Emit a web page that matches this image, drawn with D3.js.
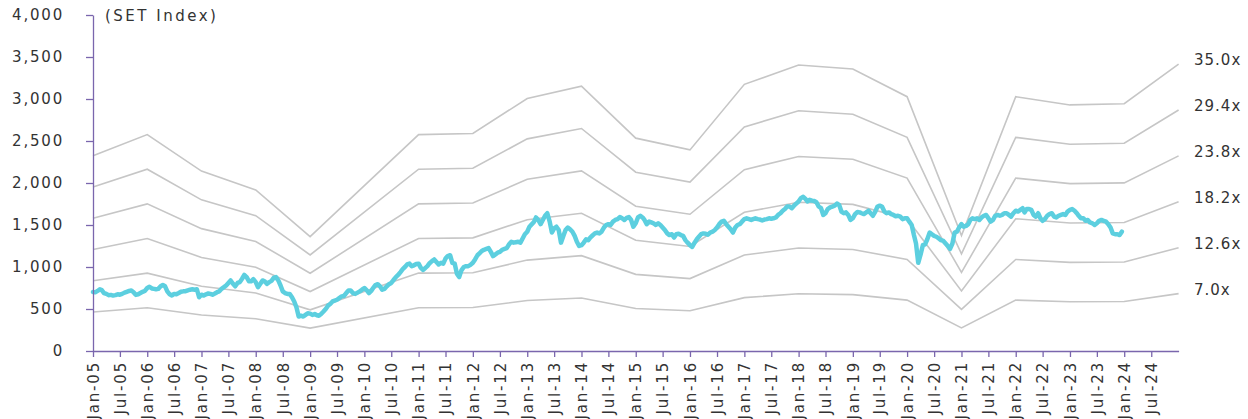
<!DOCTYPE html>
<html>
<head>
<meta charset="utf-8">
<script src="https://cdn.jsdelivr.net/npm/d3@7"></script>
<style>
  html, body { margin: 0; padding: 0; background: #fff; }
  svg { display: block; }
  text { font-family: "DejaVu Sans", sans-serif; fill: #333; }
</style>
</head>
<body>
<svg id="chart" width="1248" height="419"></svg>
<script>
// ---------- DATA ----------
// SET Index, two readings per month (1st & 16th), Jan-2005 .. Dec-2023
const setValues = [
  // 2005
  702,698, 715,735, 725,690, 680,665, 668,660, 665,675, 670,680, 695,705, 715,720, 700,668, 675,690, 705,715,
  // 2006
  750,765, 745,740, 735,740, 770,785, 770,710, 675,660, 680,675, 690,705, 710,712, 722,730, 735,730, 735,640,
  // 2007
  670,660, 675,685, 680,670, 685,700, 710,740, 760,780, 810,840, 800,770, 810,820, 860,905, 880,830, 830,855,
  // 2008
  820,760, 800,840, 830,800, 820,835, 870,880, 840,780, 710,690, 680,680, 640,590, 520,410, 420,410, 430,450,
  // 2009
  445,430, 440,425, 420,440, 470,500, 540,560, 590,600, 610,630, 650,655, 690,720, 720,690, 680,695, 710,730,
  // 2010
  750,725, 690,715, 750,785, 795,770, 730,740, 770,795, 810,845, 880,905, 940,975, 1000,1030, 1040,1010, 1020,1035,
  // 2011
  1040,990, 965,990, 1010,1045, 1070,1090, 1060,1030, 1050,1040, 1100,1130, 1140,1050, 1040,920, 880,960, 1000,1010, 1010,1025,
  // 2012
  1050,1090, 1140,1165, 1190,1205, 1215,1225, 1180,1130, 1150,1170, 1180,1205, 1215,1225, 1270,1300, 1290,1295, 1300,1290, 1340,1390,
  // 2013
  1420,1480, 1510,1540, 1590,1560, 1510,1560, 1610,1640, 1540,1410, 1460,1480, 1440,1290, 1370,1440, 1470,1450, 1420,1370, 1300,1250,
  // 2014
  1260,1290, 1330,1320, 1350,1375, 1400,1410, 1400,1420, 1470,1500, 1510,1500, 1540,1560, 1570,1595, 1580,1560, 1585,1595, 1560,1480,
  // 2015
  1520,1590, 1610,1590, 1560,1510, 1540,1530, 1520,1500, 1520,1500, 1470,1440, 1400,1380, 1390,1350, 1390,1395, 1380,1370, 1320,1290,
  // 2016
  1260,1240, 1290,1330, 1360,1390, 1400,1395, 1385,1410, 1420,1440, 1470,1510, 1540,1550, 1510,1480, 1450,1410, 1470,1500, 1510,1540,
  // 2017
  1570,1580, 1570,1560, 1570,1580, 1570,1565, 1555,1565, 1570,1580, 1575,1580, 1590,1620, 1640,1670, 1690,1720, 1720,1700, 1730,1755,
  // 2018
  1780,1820, 1835,1810, 1780,1800, 1790,1785, 1770,1720, 1700,1620, 1640,1690, 1710,1720, 1730,1755, 1740,1660, 1640,1650, 1620,1560,
  // 2019
  1580,1630, 1655,1650, 1640,1630, 1650,1670, 1640,1610, 1660,1720, 1730,1720, 1660,1640, 1650,1630, 1620,1605, 1610,1600, 1570,1580,
  // 2020
  1580,1540, 1500,1380, 1280,1050, 1150,1260, 1270,1330, 1410,1390, 1370,1360, 1340,1320, 1310,1280, 1250,1215, 1280,1410, 1420,1470,
  // 2021
  1510,1480, 1490,1510, 1560,1580, 1570,1580, 1560,1590, 1610,1620, 1580,1540, 1560,1610, 1620,1610, 1620,1640, 1640,1620, 1600,1640,
  // 2022
  1670,1660, 1680,1700, 1650,1690, 1690,1680, 1620,1600, 1640,1580, 1550,1570, 1610,1630, 1640,1600, 1590,1610, 1620,1630, 1620,1660,
  // 2023
  1680,1690, 1670,1640, 1610,1580, 1580,1550, 1560,1530, 1520,1500, 1520,1550, 1560,1550, 1540,1510, 1470,1400, 1390,1390, 1380,1420
];

// Forward EPS (index points) at each January, and the PE multiples of the bands
const epsYears = [2005, 2006, 2007, 2008, 2009, 2011, 2012, 2013, 2014, 2015, 2016, 2017, 2018, 2019, 2020, 2021, 2022, 2023, 2024, 2025];
const epsValues = [66.4, 73.6, 61.2, 54.8, 38.9, 73.6, 74.0, 85.9, 90.1, 72.4, 68.4, 90.7, 97.3, 95.9, 86.5, 39.3, 86.5, 83.7, 84.1, 97.6];
const multiples = [7.0, 12.6, 18.2, 23.8, 29.4, 35.0];
const bandLabels = ["7.0x", "12.6x", "18.2x", "23.8x", "29.4x", "35.0x"];

const yTicks = [0, 500, 1000, 1500, 2000, 2500, 3000, 3500, 4000];
const yTitle = "(SET Index)";

// ---------- CHART ----------
const svg = d3.select("#chart");
const mLeft = 93, mRight = 1178.6, mTop = 15, mBottom = 351;

const x = d3.scaleTime()
  .domain([new Date(2005, 0, 1), new Date(2025, 0, 1)])
  .range([mLeft, mRight]);
const y = d3.scaleLinear().domain([0, 4000]).range([mBottom, mTop]);

const axisColor = "#7a66ad";

// PE bands
const bandLine = d3.line().x(d => x(d.date)).y(d => y(d.value));
multiples.forEach((m, k) => {
  const pts = epsYears.map((yr, i) => ({ date: new Date(yr, 0, 1), value: epsValues[i] * m }));
  svg.append("path")
    .attr("d", bandLine(pts))
    .attr("fill", "none")
    .attr("stroke", "#c6c6c6")
    .attr("stroke-width", 1.6);
  const last = pts[pts.length - 1];
  svg.append("text")
    .attr("x", 1194)
    .attr("y", y(last.value) - 4)
    .attr("dy", "0.35em")
    .attr("font-size", 15)
    .attr("letter-spacing", 1)
    .text(bandLabels[k]);
});

// SET line
const setData = setValues.map((v, i) => {
  const d = new Date(2005, Math.floor(i / 2), (i % 2) ? 16 : 1);
  return { date: d, value: v };
});
svg.append("path")
  .attr("d", d3.line().x(d => x(d.date)).y(d => y(d.value))(setData))
  .attr("fill", "none")
  .attr("stroke", "#5ccfdf")
  .attr("stroke-width", 4.5)
  .attr("stroke-linejoin", "round")
  .attr("stroke-linecap", "round");

// Y axis
const yAxis = svg.append("g")
  .attr("transform", `translate(${mLeft},0)`)
  .call(d3.axisLeft(y).tickValues(yTicks).tickSize(7).tickSizeOuter(0).tickPadding(22)
    .tickFormat(d3.format(",")));
yAxis.selectAll("path, line").attr("stroke", axisColor).attr("stroke-width", 1.3);
yAxis.selectAll("text").attr("font-size", 15).attr("letter-spacing", 1.8)
  .attr("font-family", "DejaVu Sans, sans-serif").attr("fill", "#333");

// X axis
const xTickDates = d3.timeMonth.every(6).range(new Date(2005, 0, 1), new Date(2024, 7, 1));
const fmt = d3.timeFormat("%b-%y");
const xAxis = svg.append("g")
  .attr("transform", `translate(0,${mBottom})`)
  .call(d3.axisBottom(x).tickValues(xTickDates).tickSize(6).tickSizeOuter(0).tickFormat(fmt));
xAxis.selectAll("path, line").attr("stroke", axisColor).attr("stroke-width", 1.3);
xAxis.selectAll("text")
  .attr("font-size", 15)
  .attr("letter-spacing", 1.8)
  .attr("font-family", "DejaVu Sans, sans-serif")
  .attr("fill", "#333")
  .attr("text-anchor", "end")
  .attr("dy", "0.35em")
  .attr("x", -10)
  .attr("y", 0)
  .attr("transform", "rotate(-90)");

// Y title
svg.append("text")
  .attr("x", 105)
  .attr("y", 16)
  .attr("dy", "0.35em")
  .attr("font-size", 15)
  .attr("letter-spacing", 2.5)
  .text(yTitle);
</script>
</body>
</html>
